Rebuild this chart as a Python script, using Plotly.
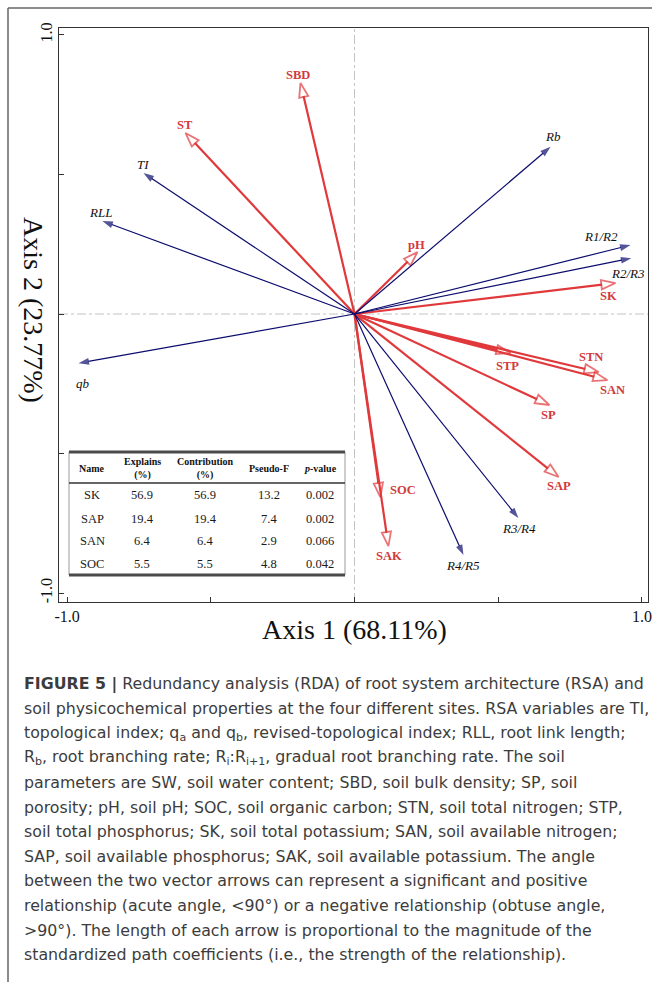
import plotly.graph_objects as go

W, H = 652, 982

# ---------------- data ----------------
# RSA variables (blue arrows), tip coordinates on RDA axes 1 and 2
rsa_names = ["Rb", "R1/R2", "R2/R3", "TI", "RLL", "qb", "R3/R4", "R4/R5"]
rsa_x = [0.682, 0.960, 0.963, -0.734, -0.877, -0.960, 0.570, 0.379]
rsa_y = [0.599, 0.247, 0.200, 0.505, 0.333, -0.176, -0.731, -0.864]

# soil variables (red arrows)
soil_names = ["SBD", "ST", "pH", "SK", "STP", "STN", "SAN", "SP", "SAP", "SOC", "SAK"]
soil_x = [-0.188, -0.588, 0.219, 0.908, 0.543, 0.849, 0.880, 0.678, 0.710, 0.090, 0.118]
soil_y = [0.828, 0.649, 0.222, 0.111, -0.140, -0.208, -0.237, -0.326, -0.584, -0.656, -0.832]

# inset table
table_header = ["Name", "Explains<br>(%)", "Contribution<br>(%)", "Pseudo-F", "<i>p</i>-value"]
table_names = ["SK", "SAP", "SAN", "SOC"]
table_explains = [56.9, 19.4, 6.4, 5.5]
table_contrib = [56.9, 19.4, 6.4, 5.5]
table_pseudo_f = [13.2, 7.4, 2.9, 4.8]
table_p = [0.002, 0.002, 0.066, 0.042]

tick_vals = [-1.0, -0.5, 0.0, 0.5, 1.0]
tick_text = ["-1.0", "", "", "", "1.0"]

x_title = "Axis 1 (68.11%)"
y_title = "Axis 2 (23.77%)"

caption_lines = [
    "<b>FIGURE 5 |</b> Redundancy analysis (RDA) of root system architecture (RSA) and",
    "soil physicochemical properties at the four different sites. RSA variables are TI,",
    "topological index; q<sub>a</sub> and q<sub>b</sub>, revised-topological index; RLL, root link length;",
    "R<sub>b</sub>, root branching rate; R<sub>i</sub>:R<sub>i+1</sub>, gradual root branching rate. The soil",
    "parameters are SW, soil water content; SBD, soil bulk density; SP, soil",
    "porosity; pH, soil pH; SOC, soil organic carbon; STN, soil total nitrogen; STP,",
    "soil total phosphorus; SK, soil total potassium; SAN, soil available nitrogen;",
    "SAP, soil available phosphorus; SAK, soil available potassium. The angle",
    "between the two vector arrows can represent a significant and positive",
    "relationship (acute angle, &lt;90°) or a negative relationship (obtuse angle,",
    "&gt;90°). The length of each arrow is proportional to the magnitude of the",
    "standardized path coefficients (i.e., the strength of the relationship).",
]

# ---------------- styles ----------------
BLUE = "#0c0c6e"
RED = "#e0393c"
RED_TXT = "#d23a3c"
SERIF = "Liberation Serif, Times New Roman, serif"
SANS = "DejaVu Sans, Liberation Sans, sans-serif"

# label pixel offsets (style only)
rsa_shift = {"Rb": (2, 10), "R1/R2": (-29, 9), "R2/R3": (-3, -15), "TI": (-1, 9),
             "RLL": (-2, 9), "qb": (4, -20), "R3/R4": (1, -10), "R4/R5": (0, -10)}
soil_shift = {"SBD": (-2, 8), "ST": (0, 8), "pH": (-1, 7), "SK": (-7, -13),
              "STP": (-3, -13), "STN": (-8, 15), "SAN": (5, -10), "SP": (-1, -10),
              "SAP": (0, -9), "SOC": (23, 7), "SAK": (1, -10)}

X0, X1 = 59, 648      # plot area in px
Y0, Y1 = 28, 602
XR = [-1.028, 1.021]
YR = [-1.032, 1.025]


def px(x):
    return x / W


def py(y):
    return 1 - y / H


fig = go.Figure()

# zero reference lines
fig.add_shape(type="line", x0=0, x1=0, y0=YR[0], y1=YR[1], xref="x", yref="y",
              line=dict(color="#c4c4c4", width=1, dash="dashdot"), layer="below")
fig.add_shape(type="line", x0=XR[0], x1=XR[1], y0=0, y1=0, xref="x", yref="y",
              line=dict(color="#c4c4c4", width=1, dash="dashdot"), layer="below")

# soil arrows (red, open heads)
for n, x, y in zip(soil_names, soil_x, soil_y):
    fig.add_trace(go.Scatter(
        x=[0, x], y=[0, y], mode="lines+markers",
        line=dict(color=RED, width=2.2),
        marker=dict(symbol="arrow", size=[0, 15], angleref="previous",
                    color="white", line=dict(color=RED, width=1.8)),
        hoverinfo="skip", showlegend=False))

# RSA arrows (blue, filled heads)
for n, x, y in zip(rsa_names, rsa_x, rsa_y):
    fig.add_trace(go.Scatter(
        x=[0, x], y=[0, y], mode="lines+markers",
        line=dict(color=BLUE, width=1.2),
        marker=dict(symbol="arrow", size=[0, 11], angleref="previous",
                    color=BLUE, line=dict(width=0)),
        hoverinfo="skip", showlegend=False))

annotations = []
for n, x, y in zip(rsa_names, rsa_x, rsa_y):
    dx, dy = rsa_shift[n]
    annotations.append(dict(x=x, y=y, xref="x", yref="y", text="<i>%s</i>" % n,
                            showarrow=False, xshift=dx, yshift=dy,
                            xanchor="center", yanchor="middle",
                            font=dict(family=SERIF, size=13, color="#111111")))
for n, x, y in zip(soil_names, soil_x, soil_y):
    dx, dy = soil_shift[n]
    annotations.append(dict(x=x, y=y, xref="x", yref="y", text="<b>%s</b>" % n,
                            showarrow=False, xshift=dx, yshift=dy,
                            xanchor="center", yanchor="middle",
                            font=dict(family=SERIF, size=12.5, color=RED_TXT)))

# axis titles
annotations.append(dict(x=px(354), y=py(629), xref="paper", yref="paper", text=x_title,
                        xanchor="center", yanchor="middle", showarrow=False,
                        font=dict(family=SERIF, size=28, color="#111111")))
annotations.append(dict(x=px(34), y=py(310), xref="paper", yref="paper", text=y_title,
                        xanchor="center", yanchor="middle", textangle=90, showarrow=False,
                        font=dict(family=SERIF, size=28, color="#111111")))

# ---------------- inset table ----------------
TL, TR, TT, TB = 69, 345, 452, 575
fig.add_shape(type="rect", x0=px(TL), x1=px(TR), y0=py(TB), y1=py(TT), xref="paper", yref="paper",
              line=dict(color="#9a9a9a", width=1), fillcolor="white")
fig.add_shape(type="line", x0=px(TL), x1=px(TR), y0=py(TT), y1=py(TT), xref="paper", yref="paper",
              line=dict(color="#4a4a4a", width=3))
fig.add_shape(type="line", x0=px(TL), x1=px(TR), y0=py(483), y1=py(483), xref="paper", yref="paper",
              line=dict(color="#333333", width=1.5))
fig.add_shape(type="line", x0=px(TL), x1=px(TR), y0=py(TB), y1=py(TB), xref="paper", yref="paper",
              line=dict(color="#4a4a4a", width=3))

col_x = [92, 142, 205, 269, 320]
row_y = [495, 519, 541, 564]
for cx, h in zip(col_x, table_header):
    annotations.append(dict(x=px(cx), y=py(468), xref="paper", yref="paper",
                            xanchor="center", yanchor="middle",
                            text="<b>%s</b>" % h, showarrow=False,
                            font=dict(family=SERIF, size=10, color="#111111")))
for i, ry in enumerate(row_y):
    vals = [table_names[i], "%.1f" % table_explains[i], "%.1f" % table_contrib[i],
            "%.1f" % table_pseudo_f[i], "%.3f" % table_p[i]]
    for cx, v in zip(col_x, vals):
        annotations.append(dict(x=px(cx), y=py(ry), xref="paper", yref="paper",
                                xanchor="center", yanchor="middle",
                                text=v, showarrow=False,
                                font=dict(family=SERIF, size=12.5, color="#1a1a1a")))

# ---------------- caption ----------------
for i, line in enumerate(caption_lines):
    annotations.append(dict(x=px(22), y=py(684 + 24.6 * i), xref="paper", yref="paper",
                            xanchor="left", yanchor="middle", text=line, showarrow=False,
                            font=dict(family=SANS, size=15.8, color="#3c3c3c")))

# outer frame
fig.add_shape(type="line", x0=px(8), x1=px(8), y0=py(8), y1=0, xref="paper", yref="paper",
              line=dict(color="#666666", width=1.5))
fig.add_shape(type="line", x0=px(8), x1=1, y0=py(8), y1=py(8), xref="paper", yref="paper",
              line=dict(color="#666666", width=1.5))

axis_common = dict(showgrid=False, zeroline=False, showline=True, mirror=True,
                   linecolor="#333333", linewidth=1.2, ticks="inside", ticklen=5,
                   tickcolor="#333333", tickwidth=1, tickvals=tick_vals, ticktext=tick_text,
                   tickfont=dict(family=SERIF, size=16, color="#111111"), automargin=False)

fig.update_layout(
    width=W, height=H,
    margin=dict(l=0, r=0, t=0, b=0),
    paper_bgcolor="white", plot_bgcolor="white",
    xaxis=dict(range=XR, domain=[px(X0), px(X1)], **axis_common),
    yaxis=dict(range=YR, domain=[py(Y1), py(Y0)], tickangle=-90, **axis_common),
    annotations=annotations,
)

fig.write_html("out.html")
